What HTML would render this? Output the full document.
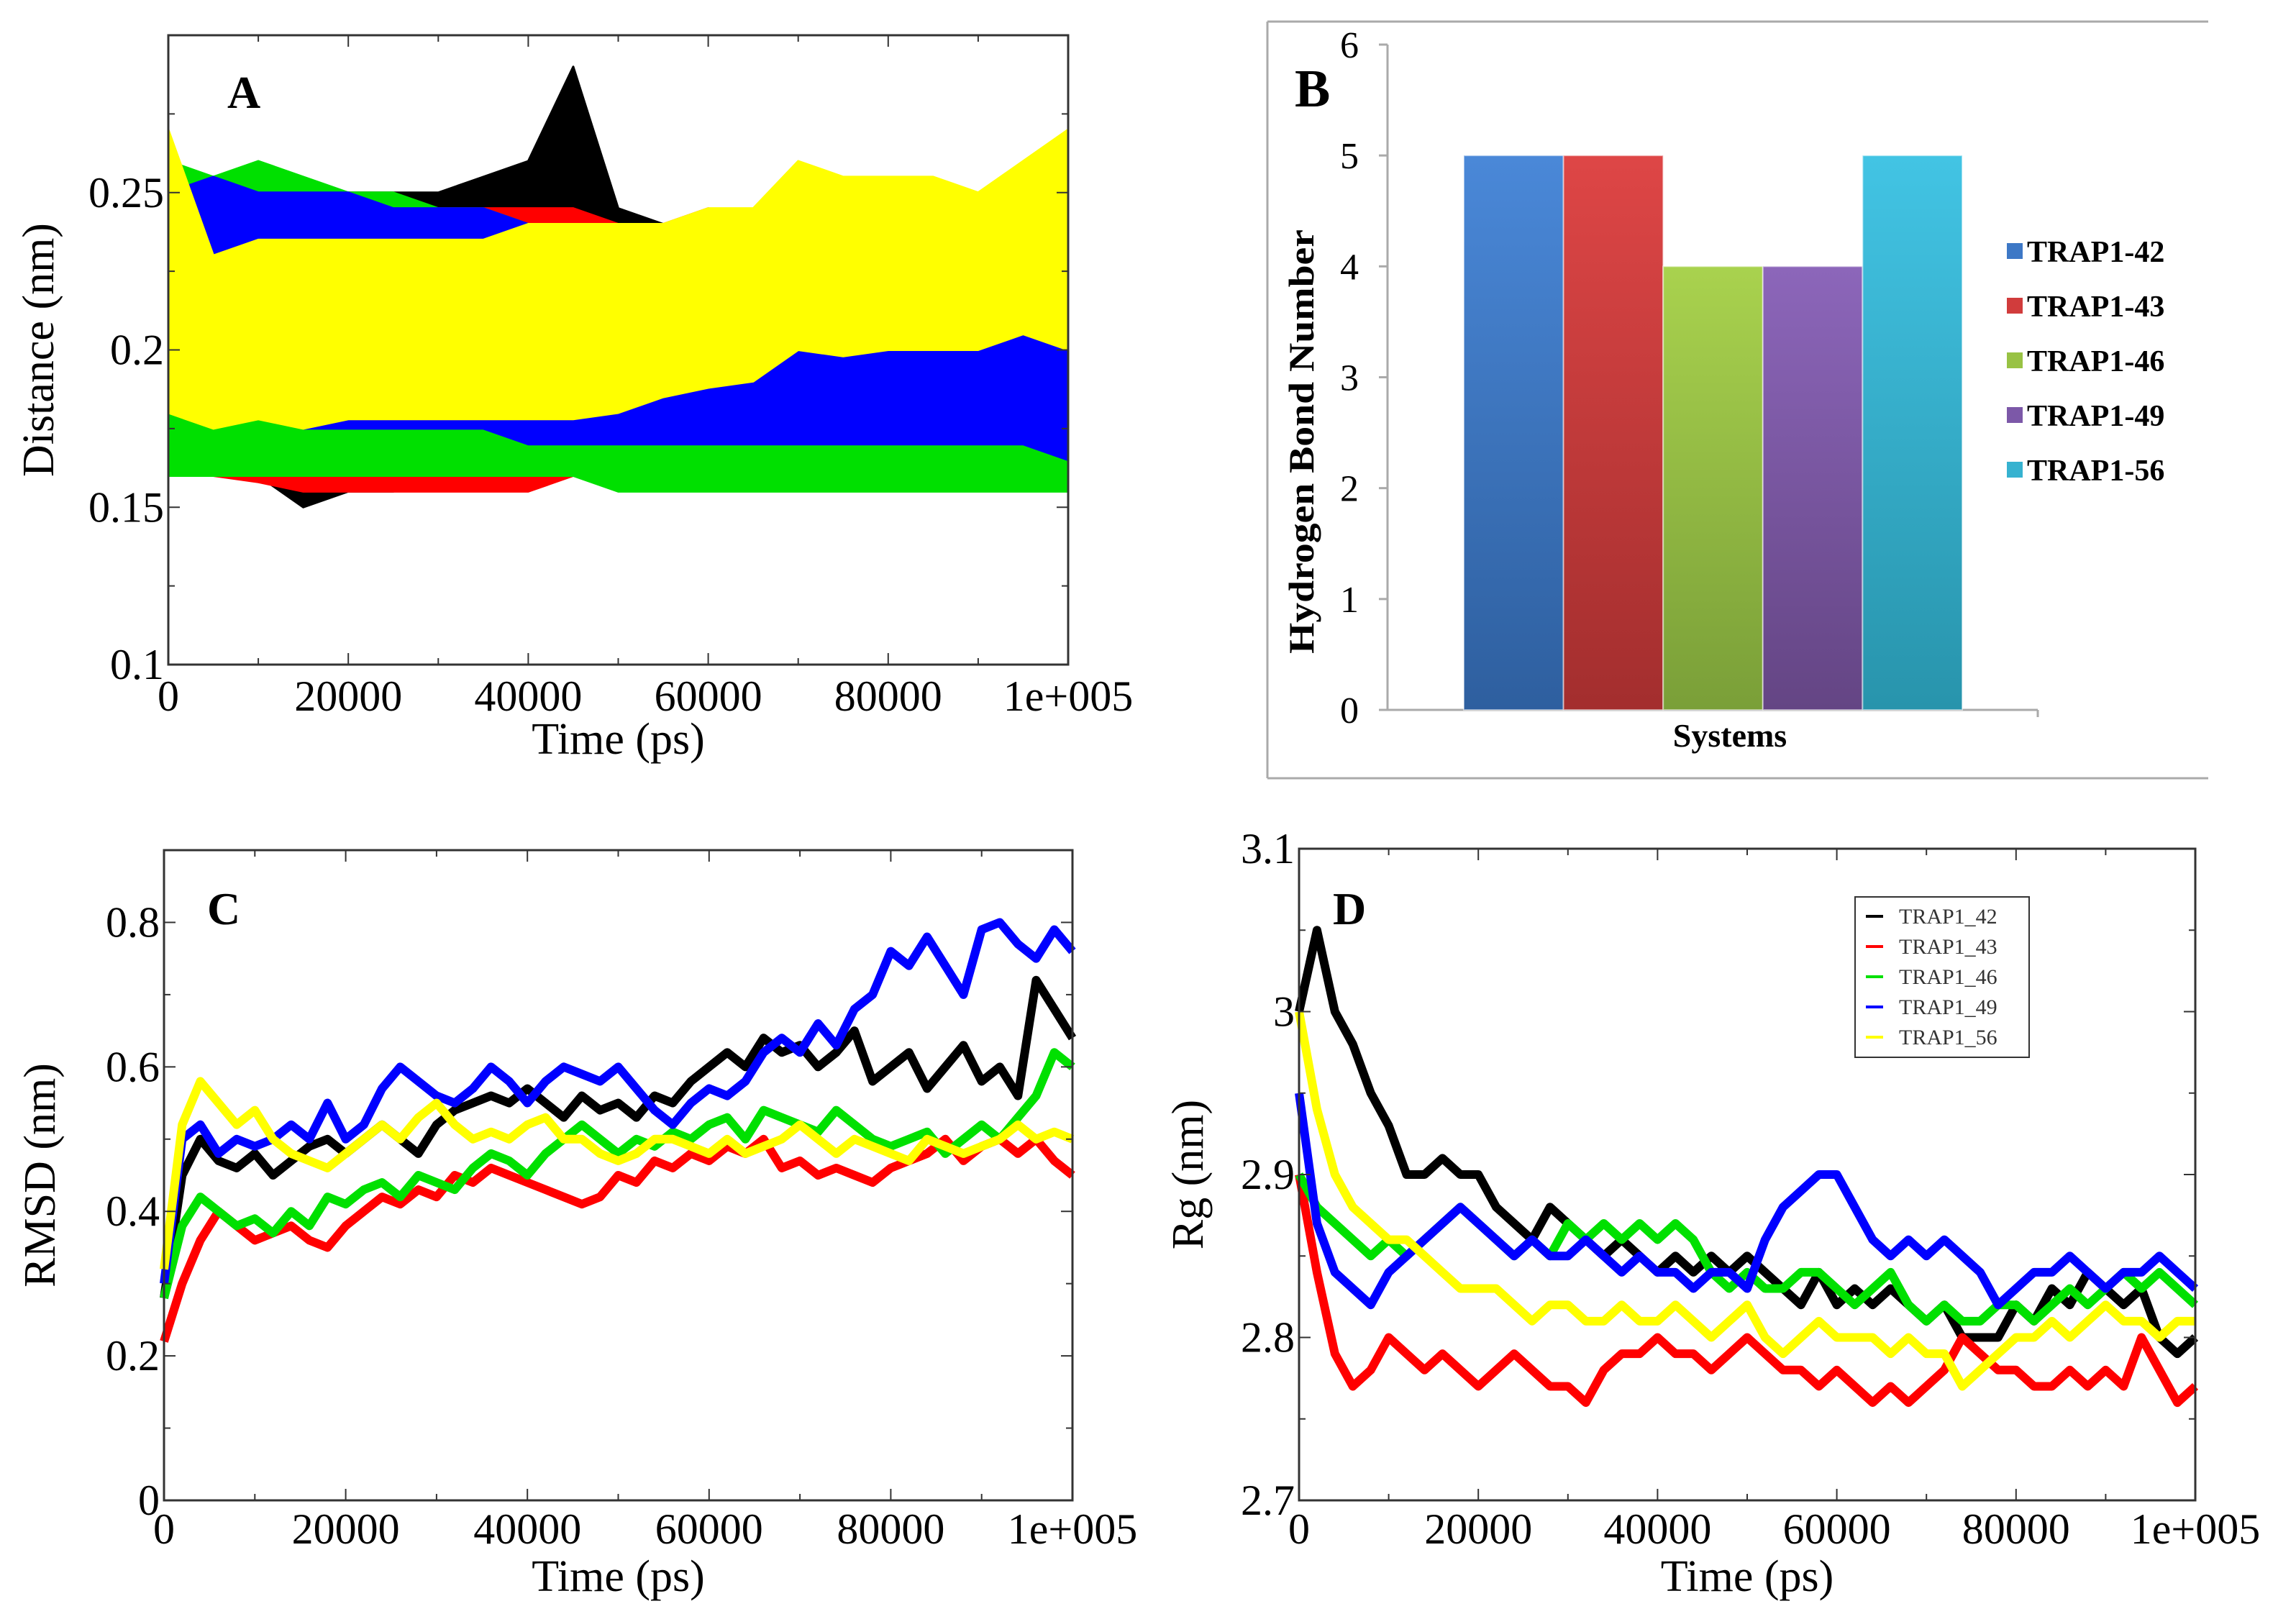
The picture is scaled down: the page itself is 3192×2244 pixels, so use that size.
<!DOCTYPE html>
<html><head><meta charset="utf-8">
<style>
html,body{margin:0;padding:0;background:#fff;overflow:hidden;}
svg{display:block;}
text{font-family:"Liberation Serif",serif;}
</style></head>
<body>
<svg id="fig" width="3192" height="2244" viewBox="0 0 3192 2244" xmlns="http://www.w3.org/2000/svg">
<defs>
<linearGradient id="gB" x1="0" y1="0" x2="0" y2="1"><stop offset="0" stop-color="#4a88d8"/><stop offset="1" stop-color="#2e5f9f"/></linearGradient>
<linearGradient id="gR" x1="0" y1="0" x2="0" y2="1"><stop offset="0" stop-color="#de4646"/><stop offset="1" stop-color="#a32e2e"/></linearGradient>
<linearGradient id="gG" x1="0" y1="0" x2="0" y2="1"><stop offset="0" stop-color="#a9d24e"/><stop offset="1" stop-color="#7a9f38"/></linearGradient>
<linearGradient id="gP" x1="0" y1="0" x2="0" y2="1"><stop offset="0" stop-color="#8c66ba"/><stop offset="1" stop-color="#644584"/></linearGradient>
<linearGradient id="gC" x1="0" y1="0" x2="0" y2="1"><stop offset="0" stop-color="#42c4e4"/><stop offset="1" stop-color="#2894ac"/></linearGradient>
</defs>
</svg>
<script>
// ---------- Panel A data (upper / lower envelope per series, x step 5000) ----------
const aX = [0,5000,10000,15000,20000,25000,30000,35000,40000,45000,50000,55000,60000,65000,70000,75000,80000,85000,90000,95000,100000];
const aBlackUp = [0.25,0.245,0.245,0.245,0.25,0.25,0.25,0.255,0.26,0.29,0.245,0.24,0.24,0.24,0.24,0.24,0.24,0.245,0.245,0.24,0.24];
const aBlackLo = [0.17,0.165,0.16,0.15,0.155,0.155,0.16,0.16,0.16,0.165,0.17,0.17,0.17,0.17,0.17,0.17,0.17,0.17,0.17,0.17,0.17];
const aRedUp = [0.26,0.245,0.24,0.24,0.24,0.245,0.245,0.245,0.245,0.245,0.24,0.24,0.245,0.24,0.24,0.24,0.245,0.245,0.245,0.24,0.245];
const aRedLo = [0.165,0.16,0.158,0.155,0.155,0.155,0.155,0.155,0.155,0.16,0.165,0.165,0.165,0.165,0.165,0.165,0.165,0.165,0.165,0.165,0.165];
const aGreenUp = [0.26,0.255,0.26,0.255,0.25,0.25,0.245,0.245,0.24,0.24,0.24,0.235,0.235,0.235,0.235,0.23,0.23,0.23,0.23,0.235,0.235];
const aGreenLo = [0.16,0.16,0.16,0.16,0.16,0.16,0.16,0.16,0.16,0.16,0.155,0.155,0.155,0.155,0.155,0.155,0.155,0.155,0.155,0.155,0.155];
const aBlueUp = [0.25,0.255,0.25,0.25,0.25,0.245,0.245,0.245,0.24,0.24,0.24,0.24,0.235,0.235,0.235,0.23,0.23,0.235,0.235,0.23,0.225];
const aBlueLo = [0.18,0.18,0.18,0.175,0.175,0.175,0.175,0.175,0.17,0.17,0.17,0.17,0.17,0.17,0.17,0.17,0.17,0.17,0.17,0.17,0.165];
const aYellowUp = [0.27,0.23,0.235,0.235,0.235,0.235,0.235,0.235,0.24,0.24,0.24,0.24,0.245,0.245,0.26,0.255,0.255,0.255,0.25,0.26,0.27];
const aYellowLo = [0.18,0.175,0.178,0.175,0.178,0.178,0.178,0.178,0.178,0.178,0.18,0.185,0.188,0.19,0.2,0.198,0.2,0.2,0.2,0.205,0.2];
const aYTicks = [0.1,0.15,0.2,0.25];
const aYTickLabels = ["0.1","0.15","0.2","0.25"];
const timeTicks = [0,20000,40000,60000,80000,100000];
const timeTickLabels = ["0","20000","40000","60000","80000","1e+005"];

// ---------- Panel B data ----------
const bCategories = ["TRAP1-42","TRAP1-43","TRAP1-46","TRAP1-49","TRAP1-56"];
const bValues = [5,5,4,4,5];
const bYTicks = [0,1,2,3,4,5,6];

// ---------- Panel C data (RMSD, x step 2000) ----------
const cBlack = [0.28,0.45,0.5,0.47,0.46,0.48,0.45,0.47,0.49,0.5,0.48,0.5,0.52,0.5,0.48,0.52,0.54,0.55,0.56,0.55,0.57,0.55,0.53,0.56,0.54,0.55,0.53,0.56,0.55,0.58,0.6,0.62,0.6,0.64,0.62,0.63,0.6,0.62,0.65,0.58,0.6,0.62,0.57,0.6,0.63,0.58,0.6,0.56,0.72,0.68,0.64];
const cRed = [0.22,0.3,0.36,0.4,0.38,0.36,0.37,0.38,0.36,0.35,0.38,0.4,0.42,0.41,0.43,0.42,0.45,0.44,0.46,0.45,0.44,0.43,0.42,0.41,0.42,0.45,0.44,0.47,0.46,0.48,0.47,0.49,0.48,0.5,0.46,0.47,0.45,0.46,0.45,0.44,0.46,0.47,0.48,0.5,0.47,0.49,0.5,0.48,0.5,0.47,0.45];
const cGreen = [0.28,0.38,0.42,0.4,0.38,0.39,0.37,0.4,0.38,0.42,0.41,0.43,0.44,0.42,0.45,0.44,0.43,0.46,0.48,0.47,0.45,0.48,0.5,0.52,0.5,0.48,0.5,0.49,0.51,0.5,0.52,0.53,0.5,0.54,0.53,0.52,0.51,0.54,0.52,0.5,0.49,0.5,0.51,0.48,0.5,0.52,0.5,0.53,0.56,0.62,0.6];
const cBlue = [0.3,0.5,0.52,0.48,0.5,0.49,0.5,0.52,0.5,0.55,0.5,0.52,0.57,0.6,0.58,0.56,0.55,0.57,0.6,0.58,0.55,0.58,0.6,0.59,0.58,0.6,0.57,0.54,0.52,0.55,0.57,0.56,0.58,0.62,0.64,0.62,0.66,0.63,0.68,0.7,0.76,0.74,0.78,0.74,0.7,0.79,0.8,0.77,0.75,0.79,0.76];
const cYellow = [0.32,0.52,0.58,0.55,0.52,0.54,0.5,0.48,0.47,0.46,0.48,0.5,0.52,0.5,0.53,0.55,0.52,0.5,0.51,0.5,0.52,0.53,0.5,0.5,0.48,0.47,0.48,0.5,0.5,0.49,0.48,0.5,0.48,0.49,0.5,0.52,0.5,0.48,0.5,0.49,0.48,0.47,0.5,0.49,0.48,0.49,0.5,0.52,0.5,0.51,0.5];
const cYTicks = [0,0.2,0.4,0.6,0.8];
const cYTickLabels = ["0","0.2","0.4","0.6","0.8"];

// ---------- Panel D data (Rg, x step 2000) ----------
const dBlack = [3.0,3.05,3.0,2.98,2.95,2.93,2.9,2.9,2.91,2.9,2.9,2.88,2.87,2.86,2.88,2.87,2.86,2.85,2.86,2.85,2.84,2.85,2.84,2.85,2.84,2.85,2.84,2.83,2.82,2.84,2.82,2.83,2.82,2.83,2.82,2.81,2.82,2.8,2.8,2.8,2.82,2.81,2.83,2.82,2.84,2.83,2.82,2.83,2.8,2.79,2.8];
const dRed = [2.9,2.84,2.79,2.77,2.78,2.8,2.79,2.78,2.79,2.78,2.77,2.78,2.79,2.78,2.77,2.77,2.76,2.78,2.79,2.79,2.8,2.79,2.79,2.78,2.79,2.8,2.79,2.78,2.78,2.77,2.78,2.77,2.76,2.77,2.76,2.77,2.78,2.8,2.79,2.78,2.78,2.77,2.77,2.78,2.77,2.78,2.77,2.8,2.78,2.76,2.77];
const dGreen = [2.9,2.88,2.87,2.86,2.85,2.86,2.85,2.86,2.87,2.88,2.87,2.86,2.85,2.86,2.85,2.87,2.86,2.87,2.86,2.87,2.86,2.87,2.86,2.84,2.83,2.84,2.83,2.83,2.84,2.84,2.83,2.82,2.83,2.84,2.82,2.81,2.82,2.81,2.81,2.82,2.82,2.81,2.82,2.83,2.82,2.83,2.84,2.83,2.84,2.83,2.82];
const dBlue = [2.95,2.87,2.84,2.83,2.82,2.84,2.85,2.86,2.87,2.88,2.87,2.86,2.85,2.86,2.85,2.85,2.86,2.85,2.84,2.85,2.84,2.84,2.83,2.84,2.84,2.83,2.86,2.88,2.89,2.9,2.9,2.88,2.86,2.85,2.86,2.85,2.86,2.85,2.84,2.82,2.83,2.84,2.84,2.85,2.84,2.83,2.84,2.84,2.85,2.84,2.83];
const dYellow = [3.0,2.94,2.9,2.88,2.87,2.86,2.86,2.85,2.84,2.83,2.83,2.83,2.82,2.81,2.82,2.82,2.81,2.81,2.82,2.81,2.81,2.82,2.81,2.8,2.81,2.82,2.8,2.79,2.8,2.81,2.8,2.8,2.8,2.79,2.8,2.79,2.79,2.77,2.78,2.79,2.8,2.8,2.81,2.8,2.81,2.82,2.81,2.81,2.8,2.81,2.81];
const dYTicks = [2.7,2.8,2.9,3,3.1];
const dYTickLabels = ["2.7","2.8","2.9","3","3.1"];
const dLegendLabels = ["TRAP1_42","TRAP1_43","TRAP1_46","TRAP1_49","TRAP1_56"];
const seriesColors = ["#000000","#ff0000","#00e000","#0000ff","#ffff00"];

const NS = "http://www.w3.org/2000/svg";
const svg = document.getElementById("fig");
function mk(tag, attrs, parent, txt){
  const e = document.createElementNS(NS, tag);
  for (const k in attrs) e.setAttribute(k, attrs[k]);
  if (txt !== undefined) e.textContent = txt;
  (parent || svg).appendChild(e);
  return e;
}
function scale(d0,d1,r0,r1){ return v => r0 + (v-d0)/(d1-d0)*(r1-r0); }

function xyFrame(g, L, R, T, B, x, y, yTicks, yLabels, yMinor, yTitle, letter, letterX, letterY, xLabY, xTitleY, yTitleX){
  for (let v=0; v<=100000; v+=10000){
    const len = (v%20000===0)?16:9;
    const t1 = mk("line",{x1:x(v),x2:x(v),y1:B,y2:B-len,stroke:"#333","stroke-width":2},g);
    
    
    const t2 = mk("line",{x1:x(v),x2:x(v),y1:T,y2:T+len,stroke:"#333","stroke-width":2},g);
    
    
  }
  yMinor.forEach(v=>{
    const a = mk("line",{x1:L,x2:L+9,y1:y(v),y2:y(v),stroke:"#333","stroke-width":2},g);
    
    
    const b = mk("line",{x1:R,x2:R-9,y1:y(v),y2:y(v),stroke:"#333","stroke-width":2},g);
    
    
  });
  yTicks.forEach((v,i)=>{
    const a = mk("line",{x1:L,x2:L+16,y1:y(v),y2:y(v),stroke:"#333","stroke-width":2},g);
    
    
    const b = mk("line",{x1:R,x2:R-16,y1:y(v),y2:y(v),stroke:"#333","stroke-width":2},g);
    
    
    const t = mk("text",{x:L-6,y:y(v)+20,"text-anchor":"end","font-size":60},g,yLabels[i]);
    
    
  });
  timeTicks.forEach((v,i)=>{
    const t = mk("text",{x:x(v),y:xLabY,"text-anchor":"middle","font-size":60},g,timeTickLabels[i]);
    
    
  });
  const xt = mk("text",{x:(L+R)/2,y:xTitleY,"text-anchor":"middle","font-size":62},g,"Time (ps)");
  
  
  const cy = (T+B)/2;
  const yt = mk("text",{x:yTitleX,y:cy,"text-anchor":"middle","font-size":62,transform:`rotate(-90 ${yTitleX} ${cy})`},g,yTitle);
  
  
  const lt = mk("text",{x:letterX,y:letterY,"font-size":64,"font-weight":"bold"},g,letter);
  
  
  const fr = mk("rect",{x:L,y:T,width:R-L,height:B-T,fill:"none",stroke:"#333","stroke-width":3},g);
  
  
}

// ================= Panel A =================
(function(){
  const g = mk("g",{});
  
  
  const L=234,R=1485,T=49,B=924;
  const x = scale(0,100000,L,R), y = scale(0.1,0.3,B,T);
  const ups=[aBlackUp,aRedUp,aGreenUp,aBlueUp,aYellowUp], los=[aBlackLo,aRedLo,aGreenLo,aBlueLo,aYellowLo];
  const names=["band-trap1-42","band-trap1-43","band-trap1-46","band-trap1-49","band-trap1-56"];
  ups.forEach((up,s)=>{
    const lo = los[s];
    let pts = aX.map((v,i)=>x(v)+","+y(up[i]));
    for (let i=aX.length-1;i>=0;i--) pts.push(x(aX[i])+","+y(lo[i]));
    const p = mk("polygon",{points:pts.join(" "),fill:seriesColors[s],stroke:seriesColors[s],"stroke-width":3,"stroke-linejoin":"round"},g);
    
    
  });
  xyFrame(g,L,R,T,B,x,y,aYTicks,aYTickLabels,[0.125,0.175,0.225,0.275],"Distance (nm)","A",316,150,988,1048,74);
})();

// ================= Panel B =================
(function(){
  const g = mk("g",{});
  
  
  const fr1 = mk("line",{x1:1762,x2:3070,y1:30,y2:30,stroke:"#aaa","stroke-width":3},g);
  
  
  const fr2 = mk("line",{x1:1762,x2:3070,y1:1082,y2:1082,stroke:"#aaa","stroke-width":3},g);
  
  
  const fr3 = mk("line",{x1:1762,x2:1762,y1:30,y2:1082,stroke:"#aaa","stroke-width":3},g);
  
  
  const AX=1929, B0=987, T6=62;
  const y = scale(0,6,B0,T6);
  const ax = mk("line",{x1:AX,x2:AX,y1:T6,y2:B0,stroke:"#aaa","stroke-width":3},g);
  
  
  const bx = mk("line",{x1:AX-10,x2:2833,y1:B0,y2:B0,stroke:"#aaa","stroke-width":3},g);
  
  
  const bxe = mk("line",{x1:2833,x2:2833,y1:B0,y2:B0+10,stroke:"#aaa","stroke-width":3},g);
  
  
  bYTicks.forEach(v=>{
    const t = mk("line",{x1:AX-12,x2:AX,y1:y(v),y2:y(v),stroke:"#aaa","stroke-width":3},g);
    
    
    const l = mk("text",{x:1876,y:y(v)+18,"text-anchor":"middle","font-size":52},g,String(v));
    
    
  });
  const fills=["url(#gB)","url(#gR)","url(#gG)","url(#gP)","url(#gC)"];
  const sw=["#3d78c6","#d13c3c","#98c244","#7c58a8","#36b2d0"];
  const x0=2035, bw=138.6;
  bValues.forEach((v,i)=>{
    const r = mk("rect",{x:x0+i*bw,y:y(v),width:bw,height:B0-y(v),fill:fills[i],stroke:"rgba(255,255,255,0.5)","stroke-width":2},g);
    
    
    const ly = 364 + i*76;
    const sq = mk("rect",{x:2790,y:ly-26,width:22,height:22,fill:sw[i]},g);
    
    
    const lt = mk("text",{x:2818,y:ly,"font-size":42,"font-weight":"bold"},g,bCategories[i]);
    
    
  });
  const yt = mk("text",{x:1826,y:614,"text-anchor":"middle","font-size":50,"font-weight":"bold",textLength:590,lengthAdjust:"spacingAndGlyphs",transform:"rotate(-90 1826 614)"},g,"Hydrogen Bond Number");
  
  
  const xt = mk("text",{x:2405,y:1038,"text-anchor":"middle","font-size":46,"font-weight":"bold"},g,"Systems");
  
  
  const lb = mk("text",{x:1800,y:148,"font-size":74,"font-weight":"bold"},g,"B");
  
  
})();

// ================= Line panels C & D =================
function linePanel(name, L,R,T,B, y0,y1, series, ticks, tickLabels, minor, title, letter, lx, ly, xLabY, xTitleY, yTitleX){
  const g = mk("g",{});
  
  
  const x = scale(0,100000,L,R), y = scale(y0,y1,B,T);
  const sn=["line-trap1-42","line-trap1-43","line-trap1-46","line-trap1-49","line-trap1-56"];
  series.forEach((arr,s)=>{
    const pts = arr.map((v,i)=>x(i*2000)+","+y(v)).join(" ");
    const p = mk("polyline",{points:pts,fill:"none",stroke:seriesColors[s],"stroke-width":12,"stroke-linejoin":"round"},g);
    
    
  });
  xyFrame(g,L,R,T,B,x,y,ticks,tickLabels,minor,title,letter,lx,ly,xLabY,xTitleY,yTitleX);
  return g;
}
linePanel("panel-c-rmsd",228,1491,1182,2086,0,0.9,[cBlack,cRed,cGreen,cBlue,cYellow],cYTicks,cYTickLabels,[0.1,0.3,0.5,0.7],"RMSD (nm)","C",288,1285,2146,2212,76);
const gD = linePanel("panel-d-rg",1806,3052,1180,2086,2.7,3.1,[dBlack,dRed,dGreen,dBlue,dYellow],dYTicks,dYTickLabels,[2.75,2.85,2.95,3.05],"Rg (nm)","D",1853,1285,2146,2212,1672);

// legend D
(function(){
  const lg = mk("g",{},gD);
  
  
  const box = mk("rect",{x:2579,y:1247,width:242,height:223,fill:"#fff",stroke:"#333","stroke-width":2},lg);
  
  
  dLegendLabels.forEach((lab,i)=>{
    const yy = 1274 + i*42;
    const ln = mk("line",{x1:2594,x2:2618,y1:yy,y2:yy,stroke:seriesColors[i],"stroke-width":4},lg);
    
    
    const t = mk("text",{x:2640,y:yy+10,"font-size":30,fill:"#333"},lg,lab);
    
    
  });
})();
</script>
</body></html>
